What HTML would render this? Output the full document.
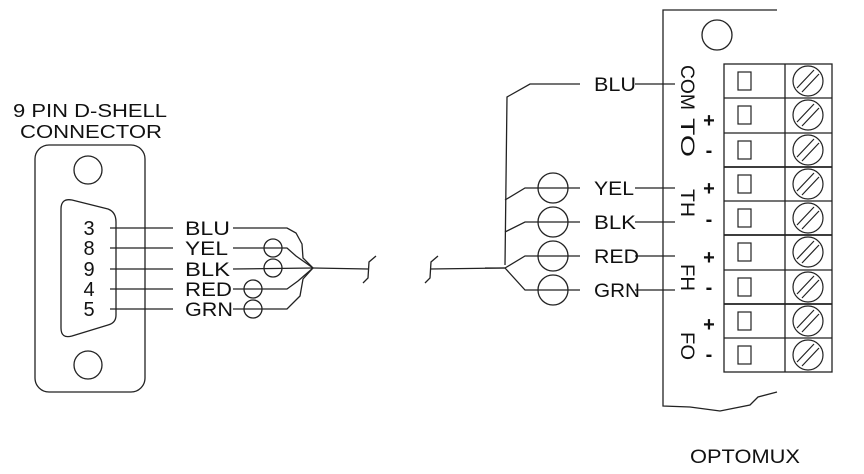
<!DOCTYPE html>
<html><head><meta charset="utf-8"><style>
html,body{margin:0;padding:0;background:#fff;}
svg{display:block;}
text{font-family:"Liberation Sans",sans-serif;fill:#111;}
</style></head><body>
<svg width="864" height="474" viewBox="0 0 864 474" xmlns="http://www.w3.org/2000/svg">
<g fill="none" stroke="#222" stroke-width="1.3">
<rect x="35" y="145" width="110" height="247" rx="14"/>
<circle cx="88" cy="170" r="14"/>
<circle cx="88" cy="365" r="14"/>
<path d="M72 200 L108 209 Q116 212 116 222 L116 315 Q116 323 108 325 L72 336 Q61 339 61 328 L61 209 Q61 198 72 200 Z"/>
<line x1="110" y1="228" x2="173" y2="228"/>
<line x1="110" y1="248" x2="173" y2="248"/>
<line x1="110" y1="269" x2="173" y2="269"/>
<line x1="110" y1="289" x2="173" y2="289"/>
<line x1="110" y1="309" x2="173" y2="309"/>
<path d="M233 228 L287 228 L296 233 L302 244 L303 258 L313 268"/>
<path d="M233 248 L287 248 L296 256 L313 268"/>
<path d="M233 269 L313 268"/>
<path d="M233 289 L287 289 L298 281 L313 268"/>
<path d="M233 309 L287 309 L300 296 L303 279 L313 268"/>
<circle cx="273" cy="248" r="9"/>
<circle cx="273" cy="268" r="9"/>
<circle cx="253" cy="289" r="9"/>
<circle cx="253" cy="309" r="9"/>
<line x1="313" y1="268" x2="368" y2="269"/>
<path d="M376 256 L369 262 L368 278 L363 283"/>
<path d="M438 256 L431 262 L430 278 L425 283"/>
<line x1="430" y1="269" x2="505" y2="268"/>
<path d="M580 84 L530 84 L507 97 L505 265"/>
<path d="M505 200 L525 188 L580 188"/>
<path d="M505 232 L525 222 L580 222"/>
<path d="M485 268 L505 268 L525 256 L580 256"/>
<path d="M505 268 L525 290 L580 290"/>
<circle cx="553" cy="188" r="15"/>
<circle cx="553" cy="222" r="15"/>
<circle cx="553" cy="256" r="15"/>
<circle cx="553" cy="290" r="15"/>
<line x1="635" y1="84" x2="675" y2="84"/>
<line x1="635" y1="188" x2="675" y2="188"/>
<line x1="635" y1="222" x2="675" y2="222"/>
<line x1="635" y1="256" x2="675" y2="256"/>
<line x1="635" y1="290" x2="675" y2="290"/>
<path d="M777 10 L663 10 L663 406 L690 407 L720 411 L750 405 L758 397 L777 392"/>
<circle cx="717" cy="35" r="15"/>
<rect x="724" y="64" width="108" height="308"/>
<line x1="785" y1="64" x2="785" y2="372"/>
</g>
<g fill="none" stroke="#222" stroke-width="1.3">
<line x1="724" y1="98" x2="832" y2="98"/><line x1="724" y1="133" x2="832" y2="133"/>
<line x1="724" y1="167" x2="832" y2="167" stroke-width="1.8"/><line x1="724" y1="201" x2="832" y2="201"/>
<line x1="724" y1="235" x2="832" y2="235" stroke-width="1.8"/><line x1="724" y1="270" x2="832" y2="270"/>
<line x1="724" y1="304" x2="832" y2="304" stroke-width="1.8"/><line x1="724" y1="338" x2="832" y2="338"/>
</g>
<g fill="none" stroke="#222" stroke-width="1.2">
<rect x="738" y="72" width="13" height="18"/><circle cx="808" cy="81" r="15"/><path d="M797 88 L814 70 M802 92 L819 74"/>
<rect x="738" y="106" width="13" height="18"/><circle cx="808" cy="115" r="15"/><path d="M797 122 L814 104 M802 126 L819 108"/>
<rect x="738" y="141" width="13" height="18"/><circle cx="808" cy="150" r="15"/><path d="M797 157 L814 139 M802 161 L819 143"/>
<rect x="738" y="175" width="13" height="18"/><circle cx="808" cy="184" r="15"/><path d="M797 191 L814 173 M802 195 L819 177"/>
<rect x="738" y="209" width="13" height="18"/><circle cx="808" cy="218" r="15"/><path d="M797 225 L814 207 M802 229 L819 211"/>
<rect x="738" y="243" width="13" height="18"/><circle cx="808" cy="252" r="15"/><path d="M797 259 L814 241 M802 263 L819 245"/>
<rect x="738" y="278" width="13" height="18"/><circle cx="808" cy="287" r="15"/><path d="M797 294 L814 276 M802 298 L819 280"/>
<rect x="738" y="312" width="13" height="18"/><circle cx="808" cy="321" r="15"/><path d="M797 328 L814 310 M802 332 L819 314"/>
<rect x="738" y="346" width="13" height="18"/><circle cx="808" cy="355" r="15"/><path d="M797 362 L814 344 M802 366 L819 348"/>
</g>
<g font-size="18" lengthAdjust="spacingAndGlyphs">
<text x="13" y="117" textLength="154" lengthAdjust="spacingAndGlyphs">9 PIN D-SHELL</text>
<text x="20" y="138" textLength="142" lengthAdjust="spacingAndGlyphs">CONNECTOR</text>
</g>
<g font-size="20" text-anchor="middle">
<text x="89" y="235">3</text><text x="89" y="255">8</text><text x="89" y="276">9</text><text x="89" y="296">4</text><text x="89" y="316">5</text>
</g>
<g font-size="19">
<text x="185" y="235" textLength="45" lengthAdjust="spacingAndGlyphs">BLU</text>
<text x="185" y="255" textLength="43" lengthAdjust="spacingAndGlyphs">YEL</text>
<text x="185" y="276" textLength="45" lengthAdjust="spacingAndGlyphs">BLK</text>
<text x="185" y="296" textLength="47" lengthAdjust="spacingAndGlyphs">RED</text>
<text x="185" y="316" textLength="48" lengthAdjust="spacingAndGlyphs">GRN</text>
<text x="594" y="91" textLength="42" lengthAdjust="spacingAndGlyphs">BLU</text>
<text x="594" y="195" textLength="40" lengthAdjust="spacingAndGlyphs">YEL</text>
<text x="594" y="229" textLength="42" lengthAdjust="spacingAndGlyphs">BLK</text>
<text x="594" y="263" textLength="45" lengthAdjust="spacingAndGlyphs">RED</text>
<text x="594" y="297" textLength="46" lengthAdjust="spacingAndGlyphs">GRN</text>
</g>
<g font-size="19">
<text transform="translate(681,65) rotate(90)" textLength="45" lengthAdjust="spacingAndGlyphs">COM</text>
<text transform="translate(681,118) rotate(90)" textLength="39" lengthAdjust="spacingAndGlyphs">TO</text>
<text transform="translate(681,189) rotate(90)" textLength="28" lengthAdjust="spacingAndGlyphs">TH</text>
<text transform="translate(681,264) rotate(90)" textLength="27" lengthAdjust="spacingAndGlyphs">FH</text>
<text transform="translate(681,332) rotate(90)" textLength="28" lengthAdjust="spacingAndGlyphs">FO</text>
</g>
<g font-size="20" font-weight="bold" text-anchor="middle">
<text x="709" y="127">+</text><text x="709" y="157">-</text>
<text x="709" y="195">+</text><text x="709" y="226">-</text>
<text x="709" y="264">+</text><text x="709" y="294">-</text>
<text x="709" y="331">+</text><text x="709" y="361">-</text>
</g>
<text x="690" y="463" font-size="19" textLength="110" lengthAdjust="spacingAndGlyphs">OPTOMUX</text>
</svg>
</body></html>
